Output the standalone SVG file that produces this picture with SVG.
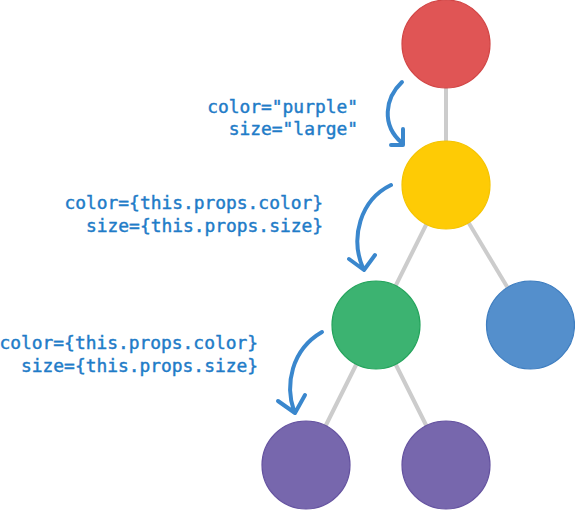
<svg xmlns="http://www.w3.org/2000/svg" width="575" height="510" viewBox="0 0 575 510">
<style>
.lbl{font-family:"DejaVu Sans Mono","Liberation Mono",monospace;font-size:17.9px;fill:#1f7cc8;stroke:#1f7cc8;stroke-width:0.45;text-anchor:end}
.edge{stroke:#cccccc;stroke-width:4;fill:none}
.arr{stroke:#3a87cd;stroke-width:4;fill:none;stroke-linecap:round;stroke-linejoin:round}
.node{stroke-width:1.2}
</style>
<rect width="575" height="510" fill="#ffffff"/>
<g id="edges">
<line class="edge" x1="446" y1="44" x2="446" y2="185"/>
<line class="edge" x1="446" y1="185" x2="376" y2="325"/>
<line class="edge" x1="446" y1="185" x2="530" y2="325"/>
<line class="edge" x1="376" y1="325" x2="306" y2="465"/>
<line class="edge" x1="376" y1="325" x2="446" y2="465"/>
</g>
<g id="node-red"><circle class="node" cx="446" cy="44" r="44" fill="#e05555" stroke="#d24646"/></g>
<g id="node-yellow"><circle class="node" cx="446" cy="185" r="44" fill="#fecb05" stroke="#f5c400"/></g>
<g id="node-green"><circle class="node" cx="376" cy="325" r="44" fill="#3cb371" stroke="#24a45c"/></g>
<g id="node-blue"><circle class="node" cx="530.5" cy="325" r="44" fill="#548fcc" stroke="#3f7ec0"/></g>
<g id="node-purple-left"><circle class="node" cx="306" cy="465" r="44" fill="#7767ad" stroke="#6553a0"/></g>
<g id="node-purple-right"><circle class="node" cx="446" cy="465" r="44" fill="#7767ad" stroke="#6553a0"/></g>
<g id="arrows">
<path class="arr" d="M402,82 C385,98 381,125 402,143 M391,145 L403,145 L403,129"/>
<path class="arr" d="M391,185 C360,200 350,238 363,268 M349,259 L364,270 L375,255"/>
<path class="arr" d="M322,332 C291,350 285,385 294,411 M278,401 L295,413 L305,395"/>
</g>
<g id="labels">
<text class="lbl" x="358" y="113">color="purple"</text>
<text class="lbl" x="358" y="135">size="large"</text>
<text class="lbl" x="323" y="209">color={this.props.color}</text>
<text class="lbl" x="323" y="232">size={this.props.size}</text>
<text class="lbl" x="258" y="349">color={this.props.color}</text>
<text class="lbl" x="258" y="372">size={this.props.size}</text>
</g>
</svg>
